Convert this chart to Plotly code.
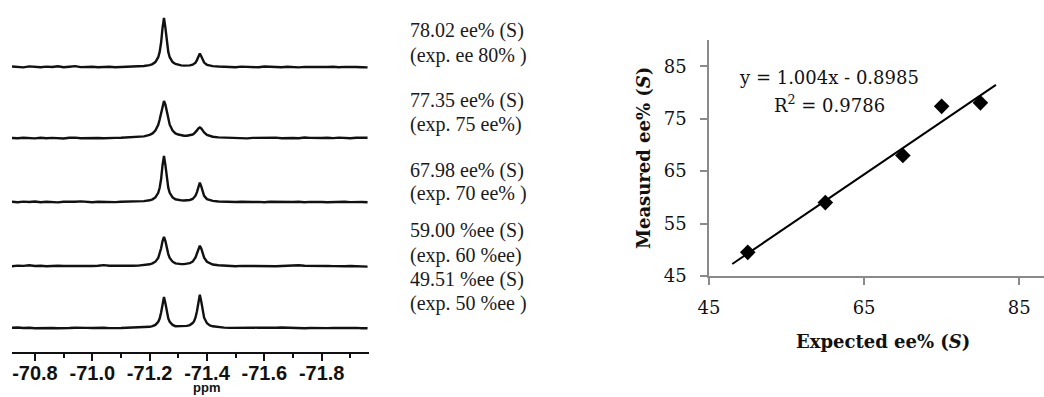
import plotly.graph_objects as go

# ---------------- 19F NMR spectra (left panel) ----------------
ppm = [
    -70.72, -70.74, -70.76, -70.78, -70.80, -70.82, -70.84, -70.86, -70.88, -70.90,
    -70.92, -70.94, -70.96, -70.98, -71.00, -71.02, -71.04, -71.06, -71.08, -71.10,
    -71.12, -71.14, -71.16,
    -71.18, -71.20, -71.21, -71.22, -71.23, -71.235, -71.24, -71.245, -71.25, -71.255,
    -71.26, -71.265, -71.27, -71.28, -71.29, -71.30, -71.31, -71.32, -71.33, -71.34,
    -71.35, -71.355, -71.36, -71.365, -71.37, -71.375, -71.38, -71.385, -71.39, -71.40,
    -71.41, -71.42, -71.44,
    -71.46, -71.48, -71.50, -71.52, -71.54, -71.56, -71.58, -71.60, -71.62, -71.64,
    -71.66, -71.68, -71.70, -71.72, -71.74, -71.76, -71.78, -71.80, -71.82, -71.84,
    -71.86, -71.88, -71.90, -71.92, -71.94, -71.96,
]

spec_78 = [
    0.5, 0.2, -0.4, 0.6, 0.1, -0.3, 0.4, 0.0, 0.8, -0.2, 0.3, 0.9, -0.1, 0.4, 0.2, -0.3,
    0.1, 0.3, -0.2, 0.0, 0.4, 0.3, 0.6,
    1.0, 1.9, 2.9, 4.9, 9.8, 15.1, 24.5, 39.2, 49.0, 39.2, 24.5, 15.1, 9.8, 4.9, 3.0,
    2.1, 1.6, 1.4, 1.3, 1.6, 2.3, 3.0, 4.4, 6.9, 10.8, 13.4, 10.8, 6.9, 4.4, 2.2, 1.3,
    0.9, 0.5,
    0.3, 0.1, -0.2, 0.4, 0.0, 0.2, -0.3, 0.5, 0.1, 0.0, -0.2, 0.3, 0.0, -0.4, 0.1, -0.1,
    0.2, -0.3, 0.0, 0.3, -0.2, 0.1, -0.3, 0.0, -0.2, -0.4,
]
spec_77 = [
    0.0, -0.3, 0.2, 0.1, -0.4, 0.3, -0.2, 0.1, 0.0, -0.5, 0.2, 0.4, -0.3, -0.1, 0.5, 0.0,
    -0.2, 0.3, 0.1, 0.2, 0.4, 0.6, 0.9,
    1.6, 3.1, 4.6, 7.4, 13.3, 18.5, 25.6, 33.3, 37.0, 33.3, 25.6, 18.5, 13.3, 7.4, 4.6,
    3.5, 2.7, 2.3, 2.3, 2.6, 3.5, 4.4, 5.7, 7.6, 9.6, 10.6, 9.6, 7.4, 5.5, 3.1, 1.9,
    1.3, 0.6,
    0.4, 0.0, -0.3, 0.2, -0.4, 0.1, 0.3, -0.2, 0.0, 0.4, -0.3, 0.1, 0.0, -0.2, 0.5, 0.1,
    -0.3, 0.0, 0.2, -0.1, 0.4, 0.0, -0.2, 0.3, 0.1, 0.2,
]
spec_68 = [
    0.3, -0.2, 0.4, 0.0, 0.5, -0.3, 0.2, 0.1, -0.4, 0.3, 0.0, 0.2, 0.6, 0.1, -0.2, 0.3,
    0.0, 0.2, -0.1, 0.3, 0.4, 0.2, 0.5,
    0.9, 1.7, 2.7, 4.6, 9.2, 14.2, 23.0, 36.8, 46.0, 36.8, 23.0, 14.2, 9.2, 4.6, 2.7,
    2.0, 1.6, 1.5, 1.6, 2.0, 3.0, 4.2, 6.3, 9.9, 15.6, 19.4, 15.6, 9.8, 6.2, 2.9, 1.6,
    1.1, 0.5,
    0.2, -0.1, 0.0, 0.3, -0.2, 0.0, 0.1, -0.3, 0.2, 0.0, 0.4, -0.1, 0.0, 0.2, -0.3, 0.1,
    0.3, 0.0, -0.2, 0.1, 0.0, 0.3, -0.1, 0.2, 0.0, -0.3,
]
spec_59 = [
    -0.2, 0.4, 0.1, 0.7, 0.0, 0.3, -0.3, 0.1, 0.2, 0.0, -0.1, 0.0, 0.1, -0.2, 0.0, 0.2,
    0.9, 0.3, 0.1, 0.0, 0.3, 0.2, 0.4,
    0.9, 1.7, 2.6, 4.3, 8.1, 11.9, 17.7, 25.0, 29.0, 25.0, 17.7, 11.9, 8.1, 4.3, 2.6,
    2.1, 1.9, 1.9, 2.1, 2.8, 4.4, 6.0, 8.6, 12.5, 17.5, 20.3, 17.5, 12.4, 8.4, 4.2, 2.5,
    1.5, 0.8,
    0.3, 0.0, -0.2, 0.1, 0.0, -0.3, 0.2, 0.0, 0.1, -0.2, 0.0, 0.3, 0.0, 0.8, 0.2, 0.0,
    -0.3, 0.1, 0.0, -0.1, 0.2, -0.2, 0.0, -0.3, 0.1, -0.6,
]
spec_50 = [
    0.2, 0.5, 0.0, 0.3, -0.2, 0.1, 0.4, 0.0, -0.3, 0.2, 0.0, 0.3, 0.5, 0.1, 0.0, 0.4,
    0.2, -0.1, 0.3, 0.0, 0.2, 0.3, 0.4,
    0.6, 1.2, 1.8, 3.1, 6.2, 9.5, 15.5, 24.8, 31.0, 24.8, 15.5, 9.5, 6.2, 3.1, 1.8,
    1.8, 1.6, 1.7, 2.1, 2.9, 4.9, 6.9, 10.5, 16.7, 26.6, 33.2, 26.6, 16.6, 10.3, 4.7, 2.6,
    1.7, 0.7,
    0.4, 0.1, 0.3, -0.2, 0.0, 0.4, 0.2, 0.0, -0.1, 0.3, 0.5, 0.2, 0.0, 0.3, -0.2, 0.0,
    0.2, 0.1, -0.1, 0.0, 0.2, -0.1, 0.0, 0.1, -0.2, -0.3,
]

spectra = [spec_78, spec_77, spec_68, spec_59, spec_50]

spectrum_labels = [
    ("78.02 ee% (S)", "(exp. ee 80% )"),
    ("77.35 ee% (S)", "(exp. 75 ee%)"),
    ("67.98 ee% (S)", "(exp. 70 ee% )"),
    ("59.00 %ee (S)", "(exp. 60 %ee)"),
    ("49.51 %ee (S)", "(exp. 50 %ee )"),
]

ppm_ticks = [-70.8, -71.0, -71.2, -71.4, -71.6, -71.8]
ppm_tick_text = ["-70.8", "-71.0", "-71.2", "-71.4", "-71.6", "-71.8"]
ppm_minor_ticks = [-70.9, -71.1, -71.3, -71.5, -71.7, -71.9]

# ---------------- calibration (right panel) ----------------
expected_ee = [50, 60, 70, 75, 80]
measured_ee = [49.51, 59.00, 67.98, 77.35, 78.02]
fit_slope = 1.004
fit_intercept = -0.8985
fit_r2 = 0.9786
fit_x_ends = [48, 82]
cal_ticks = [45, 55, 65, 75, 85]
cal_xticks = [45, 65, 85]

# ---------------- layout helpers ----------------
W, H = 1044, 397


def px_x(p):
    return p / W


def px_y(p):
    return 1 - p / H


# vertical stacking of the spectra (baseline heights on the stacking axis)
stack_offsets = [285, 214, 150, 86, 24]

fig = go.Figure()

for spec, off in zip(spectra, stack_offsets):
    fig.add_trace(go.Scatter(
        x=ppm, y=[v + off for v in spec], mode="lines",
        line=dict(color="#111111", width=2.4),
        xaxis="x", yaxis="y", showlegend=False, hoverinfo="skip",
    ))

fit_y = [fit_slope * x + fit_intercept for x in fit_x_ends]
fig.add_trace(go.Scatter(
    x=fit_x_ends, y=fit_y, mode="lines",
    line=dict(color="#000000", width=2),
    xaxis="x2", yaxis="y2", showlegend=False,
))
fig.add_trace(go.Scatter(
    x=expected_ee, y=measured_ee, mode="markers",
    marker=dict(symbol="diamond", size=12, color="#000000"),
    xaxis="x2", yaxis="y2", showlegend=False,
))

serif = "DejaVu Serif"
times = "Liberation Serif"
narrow = "Liberation Sans Narrow, Liberation Sans, Arial"

annotations = []
label_rows = [(30, 55), (100, 124), (170, 193), (230, 255), (279, 303)]
for (l1, l2), (y1, y2) in zip(spectrum_labels, label_rows):
    for txt, yy in ((l1, y1), (l2, y2)):
        annotations.append(dict(
            text=txt, x=px_x(408), y=px_y(yy), xref="paper", yref="paper",
            xanchor="left", yanchor="middle", showarrow=False,
            font=dict(family=times, size=20, color="#1a1a1a"),
        ))

annotations.append(dict(
    text="<b>ppm</b>", x=-71.4, y=0, xref="x", yref="paper",
    xanchor="center", yanchor="bottom", showarrow=False,
    font=dict(family=narrow, size=13, color="#111111"),
))

annotations.append(dict(
    text=f"y = {fit_slope:.3f}x - {abs(fit_intercept):.4f}",
    x=px_x(829), y=px_y(78), xref="paper", yref="paper",
    xanchor="center", yanchor="middle", showarrow=False,
    font=dict(family=serif, size=18, color="#111111"),
))
annotations.append(dict(
    text=f"R<sup>2</sup> = {fit_r2:.4f}",
    x=px_x(829), y=px_y(104), xref="paper", yref="paper",
    xanchor="center", yanchor="middle", showarrow=False,
    font=dict(family=serif, size=18, color="#111111"),
))
annotations.append(dict(
    text="<b>Expected ee% (<i>S</i>)</b>",
    x=px_x(883), y=px_y(341), xref="paper", yref="paper",
    xanchor="center", yanchor="middle", showarrow=False,
    font=dict(family=serif, size=18, color="#111111"),
))
annotations.append(dict(
    text="<b>Measured ee% (<i>S</i>)</b>",
    x=px_x(643), y=px_y(158), xref="paper", yref="paper",
    xanchor="center", yanchor="middle", showarrow=False, textangle=-90,
    font=dict(family=serif, size=18, color="#111111"),
))

grey = "#8a8a8a"

fig.update_layout(
    width=W, height=H,
    margin=dict(l=0, r=0, t=0, b=0, autoexpand=False),
    paper_bgcolor="white", plot_bgcolor="white",
    showlegend=False,
    xaxis=dict(
        domain=[px_x(12), px_x(369)],
        range=[-70.72, -71.965],
        automargin=False,
        showgrid=False, zeroline=False,
        showline=True, linecolor="#111111", linewidth=2,
        ticks="outside", ticklen=7, tickwidth=2, tickcolor="#111111",
        tickmode="array", tickvals=ppm_ticks, ticktext=ppm_tick_text,
        minor=dict(tickmode="array", tickvals=ppm_minor_ticks, ticks="outside",
                   ticklen=4, tickwidth=2, tickcolor="#111111"),
        tickfont=dict(family=narrow, size=20, color="#111111", weight="bold"),
        ticklabelstandoff=-5,
        fixedrange=True,
    ),
    yaxis=dict(
        domain=[px_y(352), px_y(10)],
        range=[0, 342],
        automargin=False,
        visible=False, fixedrange=True,
    ),
    xaxis2=dict(
        domain=[px_x(709), 1.0],
        range=[45, 88.2],
        anchor="y2",
        automargin=False,
        showgrid=False, zeroline=False,
        showline=True, linecolor=grey, linewidth=1.6,
        ticks="outside", ticklen=7, tickwidth=1.6, tickcolor=grey,
        tickmode="array", tickvals=cal_xticks,
        tickfont=dict(family=serif, size=18, color="#111111"),
        ticklabelstandoff=8,
    ),
    yaxis2=dict(
        domain=[px_y(276), px_y(40)],
        range=[45, 90],
        anchor="x2",
        automargin=False,
        showgrid=False, zeroline=False,
        showline=True, linecolor=grey, linewidth=1.6,
        ticks="outside", ticklen=7, tickwidth=1.6, tickcolor=grey,
        tickmode="array", tickvals=cal_ticks,
        tickfont=dict(family=serif, size=18, color="#111111"),
        ticklabelstandoff=10,
    ),
    annotations=annotations,
)

fig.write_html("out.html")
